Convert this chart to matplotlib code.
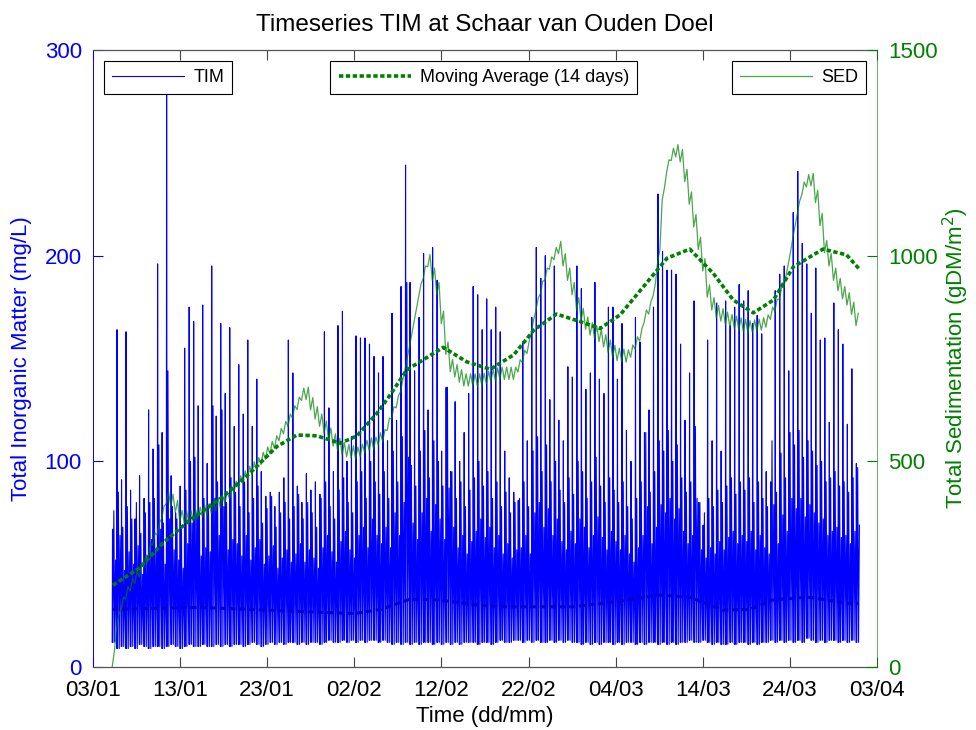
import numpy as np
import matplotlib
matplotlib.use('Agg')
import matplotlib.pyplot as plt
import matplotlib.dates as mdates
from datetime import datetime

plt.rcParams['font.family'] = ['Liberation Sans', 'DejaVu Sans']

# ---- data ----
start_date = datetime(2007, 1, 3)    # 03/01, left end of the time axis
first_tide = 2.2                     # days after 03/01
tide_period = 0.5175                 # days between tides

# TIM (mg/L), one entry per tide
tim_peak = [67, 164, 91, 163, 86, 72, 93, 82, 125, 106,
            196, 114, 290, 93, 75, 88, 155, 175, 168, 127,
            176, 99, 195, 122, 167, 133, 165, 117, 147, 123,
            159, 117, 140, 95, 83, 85, 78, 85, 92, 159,
            143, 88, 80, 94, 86, 90, 84, 163, 126, 95,
            166, 173, 100, 112, 161, 160, 160, 157, 151, 143,
            151, 110, 172, 120, 185, 244, 187, 144, 170, 201,
            125, 204, 188, 105, 136, 95, 129, 100, 114, 133,
            185, 181, 164, 179, 164, 175, 163, 105, 92, 85,
            81, 158, 110, 170, 204, 189, 200, 130, 195, 120,
            110, 146, 141, 195, 184, 135, 143, 187, 140, 133,
            175, 175, 140, 167, 115, 100, 170, 158, 114, 125,
            175, 230, 202, 193, 193, 191, 157, 120, 143, 178,
            80, 69, 159, 110, 177, 105, 178, 166, 175, 186,
            178, 183, 167, 171, 162, 95, 90, 183, 191, 195,
            144, 221, 241, 206, 196, 172, 194, 159, 160, 119,
            177, 164, 157, 118, 145, 99]
tim_mid = [76, 85, 68, 78, 72, 80, 65, 75, 80, 82,
           108, 70, 144, 78, 72, 67, 86, 100, 102, 75,
           82, 78, 127, 90, 125, 80, 92, 85, 78, 90,
           75, 82, 88, 70, 77, 83, 68, 75, 80, 72,
           78, 84, 72, 80, 75, 68, 82, 90, 78, 72,
           86, 92, 80, 75, 90, 95, 82, 100, 90, 84,
           95, 82, 105, 90, 112, 187, 98, 88, 105, 115,
           92, 110, 100, 88, 136, 95, 82, 90, 78, 86,
           92, 100, 88, 95, 82, 90, 78, 85, 75, 80,
           82, 90, 78, 105, 112, 95, 108, 90, 100, 86,
           80, 92, 84, 100, 95, 82, 90, 102, 88, 80,
           92, 86, 80, 90, 78, 72, 82, 90, 114, 85,
           95, 110, 105, 115, 100, 108, 92, 85, 90, 117,
           80, 75, 82, 78, 86, 80, 88, 92, 84, 90,
           86, 92, 80, 90, 82, 78, 110, 85, 104, 92,
           114, 108, 115, 102, 110, 105, 98, 100, 90, 92,
           95, 88, 90, 85, 92, 97]
tim_mid2 = [52, 64, 47, 56, 50, 59, 45, 54, 62, 57,
            67, 50, 72, 57, 52, 48, 60, 70, 74, 54,
            58, 56, 82, 64, 78, 57, 62, 60, 54, 64,
            52, 58, 62, 50, 54, 59, 48, 53, 57, 51,
            55, 60, 51, 57, 53, 48, 58, 64, 56, 51,
            61, 66, 57, 53, 64, 68, 58, 72, 64, 60,
            68, 58, 75, 64, 80, 102, 70, 62, 75, 82,
            66, 79, 72, 62, 87, 68, 58, 64, 55, 61,
            66, 72, 63, 68, 58, 64, 55, 60, 53, 57,
            58, 64, 55, 75, 80, 68, 77, 64, 72, 61,
            57, 66, 60, 72, 68, 58, 64, 73, 63, 57,
            66, 61, 57, 64, 55, 51, 58, 64, 78, 60,
            68, 79, 75, 82, 72, 77, 66, 60, 64, 82,
            57, 53, 58, 55, 61, 57, 63, 66, 60, 64,
            61, 66, 57, 64, 58, 55, 79, 60, 74, 66,
            82, 77, 82, 73, 79, 75, 70, 72, 64, 66,
            68, 63, 64, 60, 66, 69]
tim_low = [12, 9, 10, 9, 10, 9, 11, 10, 9, 10,
           10, 9, 10, 11, 10, 9, 10, 11, 10, 10,
           11, 10, 10, 11, 10, 11, 10, 11, 11, 10,
           11, 12, 11, 10, 11, 12, 11, 12, 11, 12,
           12, 11, 12, 11, 12, 12, 11, 12, 13, 12,
           12, 13, 12, 13, 12, 13, 12, 13, 13, 12,
           13, 12, 11, 12, 11, 12, 11, 12, 11, 12,
           12, 11, 12, 11, 12, 11, 12, 11, 12, 12,
           12, 11, 12, 12, 11, 12, 13, 12, 12, 13,
           13, 12, 13, 12, 13, 12, 12, 13, 12, 13,
           12, 13, 12, 12, 11, 12, 11, 12, 11, 12,
           12, 11, 12, 11, 12, 12, 11, 12, 11, 12,
           12, 11, 12, 11, 12, 11, 12, 12, 13, 12,
           12, 13, 12, 11, 12, 11, 11, 12, 11, 12,
           12, 11, 12, 11, 12, 12, 13, 12, 13, 12,
           13, 12, 13, 12, 14, 13, 12, 13, 12, 13,
           13, 12, 13, 12, 13, 12]

# SED (gDM/m2), low and high point of every tide
sed_lo = [0, 99, 140, 165, 185, 203, 219, 242, 270, 296,
          321, 361, 397, 390, 375, 351, 350, 350, 353, 359,
          365, 367, 374, 380, 387, 396, 409, 422, 435, 447,
          458, 469, 479, 492, 505, 518, 532, 550, 567, 585,
          605, 626, 648, 650, 625, 603, 585, 568, 551, 537,
          526, 516, 511, 508, 505, 512, 521, 527, 529, 540,
          547, 575, 603, 630, 670, 725, 782, 842, 901, 945,
          973, 940, 905, 835, 760, 718, 705, 693, 683, 683,
          683, 683, 684, 689, 693, 697, 699, 699, 699, 699,
          717, 740, 762, 815, 867, 908, 940, 967, 990, 1005,
          975, 940, 905, 868, 842, 821, 807, 799, 791, 778,
          765, 752, 745, 743, 741, 753, 773, 792, 838, 858,
          903, 985, 1135, 1203, 1231, 1240, 1228, 1180, 1125, 1070,
          1015, 963, 899, 868, 849, 841, 833, 827, 823, 819,
          815, 812, 814, 816, 819, 826, 845, 864, 894, 923,
          981, 1044, 1103, 1149, 1167, 1170, 1129, 1073, 1007, 975,
          940, 915, 895, 880, 857, 830]
sed_hi = [40, 129, 170, 195, 215, 233, 249, 272, 300, 326,
          351, 391, 427, 420, 405, 381, 380, 380, 383, 389,
          395, 397, 404, 410, 417, 426, 439, 452, 465, 477,
          488, 499, 509, 522, 535, 548, 562, 580, 597, 615,
          635, 656, 678, 680, 655, 633, 615, 598, 581, 567,
          556, 546, 541, 538, 535, 542, 551, 557, 559, 570,
          577, 605, 633, 660, 700, 755, 812, 872, 931, 975,
          1003, 970, 935, 865, 790, 748, 735, 723, 713, 713,
          713, 713, 714, 719, 723, 727, 729, 729, 729, 729,
          747, 770, 792, 845, 897, 938, 970, 997, 1020, 1035,
          1005, 970, 935, 898, 872, 851, 837, 829, 821, 808,
          795, 782, 775, 773, 771, 783, 803, 822, 868, 888,
          933, 1015, 1165, 1233, 1261, 1270, 1258, 1210, 1155, 1100,
          1045, 993, 929, 898, 879, 871, 863, 857, 853, 849,
          845, 842, 844, 846, 849, 856, 875, 894, 924, 953,
          1011, 1074, 1133, 1179, 1197, 1200, 1159, 1103, 1037, 1005,
          970, 945, 925, 910, 887, 860]

# 14 day moving averages (days after 03/01, value)
ma_tim_day = [2.2, 6.5, 12.3, 18.0, 23.8, 30.0, 33.0, 36.4, 39.8, 44.4, 47.5,
              55.1, 60.5, 64.8, 68.5, 72.3, 75.4, 78.0, 82.0, 86.7, 87.8]
ma_tim = [28, 28.5, 29, 28, 27, 26, 28, 33, 32.6, 30, 29.3,
          29.3, 32, 35, 34, 27.7, 28, 32.6, 34, 31, 31]
ma_sed_day = [2.3, 5.4, 8.0, 11.1, 14.9, 18.0, 21.1, 23.4, 25.7, 28.4, 30.3,
              32.6, 34.1, 36.0, 40.2, 42.9, 45.6, 48.3, 50.6, 53.2, 55.9, 58.2,
              60.5, 63.2, 65.9, 68.5, 71.2, 73.5, 75.8, 78.1, 80.4, 83.8, 86.5, 87.9]
ma_sed = [199, 242, 301, 357, 414, 471, 536, 564, 562, 544, 562,
          617, 661, 722, 777, 742, 724, 759, 819, 858, 840, 823,
          856, 925, 994, 1016, 957, 892, 861, 892, 973, 1016, 1002, 969]

tick_days = [0, 10, 20, 30, 40, 50, 60, 70, 80, 90]

# ---- build the series ----
x0 = mdates.date2num(start_date)
tide_t = first_tide + tide_period * np.arange(len(tim_peak))

tim_t = (tide_t[:, None] + np.array([0.0, 0.04, 0.09, 0.19, 0.29, 0.39])).ravel()
tim_v = np.column_stack([tim_low, tim_peak, tim_low, tim_mid,
                         tim_low, tim_mid2]).ravel()
sed_t = (tide_t[:, None] + np.array([0.0, 0.26])).ravel()
sed_v = np.column_stack([sed_lo, sed_hi]).ravel()

# ---- plot ----
fig = plt.figure(figsize=(9.76, 7.30), dpi=100)
ax1 = fig.add_axes([0.0953, 0.0863, 0.8033, 0.8452])
ax2 = ax1.twinx()

blue = '#0000ff'
green = '#008000'

l_tim, = ax1.plot(x0 + tim_t, tim_v, color=blue, lw=0.8)
ax1.plot(x0 + np.array(ma_tim_day), ma_tim, color='#0000c8', lw=2.2,
         linestyle=(0, (2, 1.2)))
l_sed, = ax2.plot(x0 + sed_t, sed_v, color=green, lw=0.9, alpha=0.7)
l_ma, = ax2.plot(x0 + np.array(ma_sed_day), ma_sed, color=green, lw=2.6,
                 linestyle=(0, (1.2, 0.7)))

ax1.set_xlim(x0, x0 + 90)
ax1.set_ylim(0, 300)
ax2.set_ylim(0, 1500)
ax1.set_yticks([0, 100, 200, 300])
ax2.set_yticks([0, 500, 1000, 1500])
ax1.set_xticks(x0 + np.array(tick_days))
ax1.xaxis.set_major_formatter(mdates.DateFormatter('%d/%m'))

ax1.tick_params(axis='x', direction='in', length=7, top=True, labelsize=16,
                pad=9, color='#444444')
ax1.tick_params(axis='y', direction='in', length=7, labelsize=16, pad=8,
                color=blue, labelcolor=blue)
ax2.tick_params(axis='y', direction='in', length=7, labelsize=16, pad=8,
                color=green, labelcolor=green)

for s in ['top', 'bottom']:
    ax1.spines[s].set_color('#555555')
    ax1.spines[s].set_linewidth(0.9)
ax1.spines['left'].set_color(blue)
ax1.spines['left'].set_linewidth(0.7)
ax1.spines['right'].set_visible(False)
for s in ['top', 'bottom', 'left']:
    ax2.spines[s].set_visible(False)
ax2.spines['right'].set_color(green)
ax2.spines['right'].set_linewidth(0.7)
ax2.spines['right'].set_alpha(0.6)

ax1.set_title('Timeseries TIM at Schaar van Ouden Doel', fontsize=17.5, pad=14)
ax1.set_xlabel('Time (dd/mm)', fontsize=16, labelpad=4)
ax1.set_ylabel('Total Inorganic Matter (mg/L)', fontsize=16, color=blue)
ax1.yaxis.set_label_coords(-0.078, 0.5)
ax2.set_ylabel('Total Sedimentation (gDM/m$^2$)', fontsize=16, color=green)
ax2.yaxis.set_label_coords(1.081, 0.5)

leg_kw = dict(fontsize=13, frameon=True, fancybox=False, framealpha=1,
              edgecolor='black', borderaxespad=0, handlelength=4.0,
              borderpad=0.45, handletextpad=0.5)
leg1 = ax2.legend([l_tim], ['TIM'], loc='upper left',
                  bbox_to_anchor=(0.014, 0.982), **leg_kw)
ax2.add_artist(leg1)
leg2 = ax2.legend([l_ma], ['Moving Average (14 days)'], loc='upper center',
                  bbox_to_anchor=(0.4985, 0.982), **leg_kw)
ax2.add_artist(leg2)
leg3 = ax2.legend([l_sed], ['SED'], loc='upper right',
                  bbox_to_anchor=(0.986, 0.982), **leg_kw)
for lg in (leg1, leg2, leg3):
    lg.get_frame().set_linewidth(0.8)

plt.savefig('out.png', dpi=100)
